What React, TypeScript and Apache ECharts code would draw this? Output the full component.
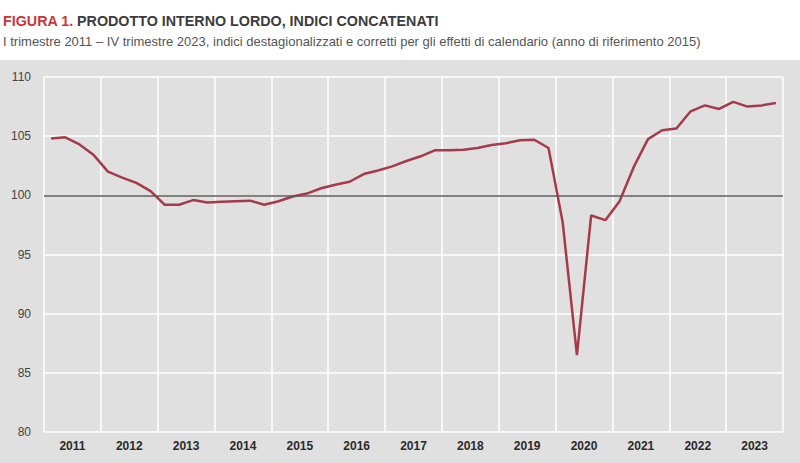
import React, { useEffect, useRef } from "react";
import * as echarts from "echarts";

const years = ["2011","2012","2013","2014","2015","2016","2017","2018","2019","2020","2021","2022","2023"];
const quarters = years.flatMap((y) => ["I", "II", "III", "IV"].map((q) => `${q} ${y}`));
const pil = [
  104.8, 104.9, 104.3, 103.4,
  102.0, 101.5, 101.05, 100.35,
  99.2, 99.2, 99.6, 99.4,
  99.45, 99.5, 99.55, 99.2,
  99.5, 99.9, 100.15, 100.6,
  100.9, 101.15, 101.8, 102.1,
  102.45, 102.9, 103.3, 103.8,
  103.8, 103.85, 104.0, 104.25,
  104.4, 104.65, 104.7, 104.0,
  97.7, 86.5, 98.3, 97.9,
  99.5, 102.4, 104.75, 105.5,
  105.65, 107.1, 107.6, 107.3,
  107.9, 107.5, 107.6, 107.8,
];
const yTicks = { min: 80, max: 110, interval: 5 };
const refValue = 100;
const titleRed = "FIGURA 1.";
const titleRest = "PRODOTTO INTERNO LORDO, INDICI CONCATENATI";
const subtitle = "I trimestre 2011 – IV trimestre 2023, indici destagionalizzati e corretti per gli effetti di calendario (anno di riferimento 2015)";

const NARROW = "'Liberation Sans Narrow', 'Arial Narrow', 'Liberation Sans', Arial, sans-serif";

export default function App() {
  const ref = useRef<HTMLDivElement>(null);
  useEffect(() => {
    document.body.style.margin = "0";
    const chart = echarts.init(ref.current!, null, { renderer: "svg" });
    chart.setOption({
      animation: false,
      backgroundColor: "#ffffff",
      graphic: [
        { type: "rect", z: -10, shape: { x: 0, y: 60, width: 800, height: 403 }, style: { fill: "#e0e0e0" }, silent: true },
        {
          type: "text", left: 3, top: 14,
          style: {
            text: `{r|${titleRed}} {d|${titleRest}}`,
            rich: {
              r: { fill: "#c8363c", fontSize: 14.3, fontWeight: "bold", fontFamily: NARROW },
              d: { fill: "#3c3c3c", fontSize: 14.3, fontWeight: "bold", fontFamily: NARROW },
            },
          },
        },
        {
          type: "text", left: 3, top: 35,
          style: { text: subtitle, fill: "#555555", fontSize: 13, fontFamily: NARROW },
        },
      ],
      grid: { left: 44, right: 17, top: 77, bottom: 31, containLabel: false },
      xAxis: [
        { type: "category", data: quarters, show: false, boundaryGap: true },
        {
          type: "category", data: years, position: "bottom", boundaryGap: true,
          axisLine: { show: false }, axisTick: { show: false },
          axisLabel: { color: "#2a2a2a", fontSize: 12, fontWeight: "bold", margin: 8, fontFamily: NARROW },
          splitLine: { show: true, lineStyle: { color: "#ffffff", width: 1.5 } },
        },
      ],
      yAxis: {
        type: "value", min: yTicks.min, max: yTicks.max, interval: yTicks.interval,
        axisLine: { show: false }, axisTick: { show: false },
        axisLabel: { color: "#444444", fontSize: 12, margin: 13, fontFamily: NARROW },
        splitLine: { lineStyle: { color: "#ffffff", width: 1.5 } },
      },
      series: [
        {
          type: "line", xAxisIndex: 0, data: pil, symbol: "none",
          lineStyle: { color: "#a53a49", width: 2.5 },
          markLine: {
            silent: true, symbol: "none", label: { show: false },
            lineStyle: { color: "#5a5a5a", width: 1.5, type: "solid" },
            data: [{ yAxis: refValue }],
          },
          z: 3,
        },
      ],
    });
    return () => chart.dispose();
  }, []);
  return <div ref={ref} style={{ width: 800, height: 463 }} />;
}
